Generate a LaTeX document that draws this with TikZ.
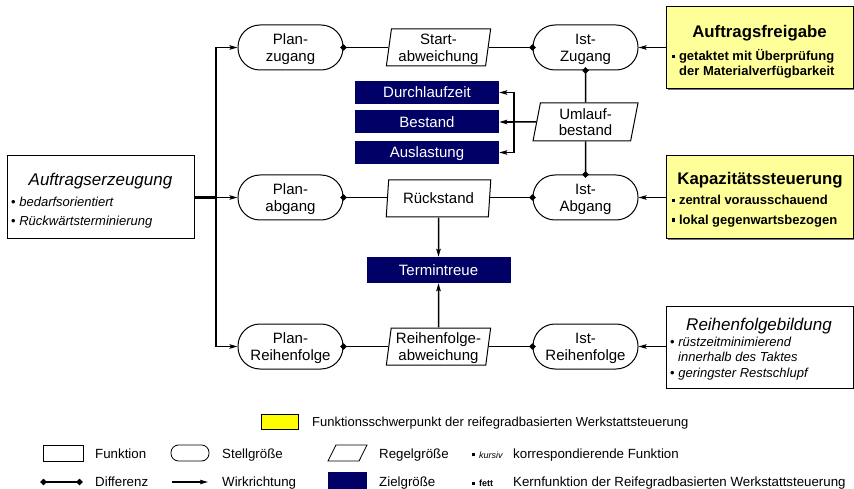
\documentclass[tikz,border=0pt]{standalone}
\usepackage{fontspec}
\setmainfont{Liberation Sans}
\usetikzlibrary{arrows.meta,shapes.geometric,shadows}
\definecolor{zielblau}{HTML}{000066}
\definecolor{schwerpunkt}{HTML}{FFFF99}
\definecolor{legendgelb}{HTML}{FFFF00}
\newcommand\fsz[2]{\fontsize{#1}{#2}\selectfont}
\newcommand\qpkt{\rule[0.22em]{3.2pt}{3.2pt}\hspace{3.6pt}}

\begin{document}
\begin{tikzpicture}[x=1pt,y=-1pt,
  line/.style={line width=1.5pt},
  wirk/.style={line, -{Stealth[length=8pt,width=4.5pt,inset=1.5pt]}},
  diff/.style={line, -{Diamond[length=7pt,width=6.5pt]}, shorten >=-3.5pt},
  diffboth/.style={line, {Diamond[length=7pt,width=6.5pt]}-{Diamond[length=7pt,width=6.5pt]}},
  stell/.style={draw, line width=1pt, rounded corners=22pt, minimum width=105pt,
    minimum height=45pt, inner sep=0pt, align=center, font=\fsz{15}{16.7}, text depth=0pt},
  regel/.style={draw, line width=1pt, trapezium, trapezium left angle=81,
    trapezium right angle=99, trapezium stretches=true, minimum width=105pt,
    minimum height=37pt, inner sep=0pt, align=center, font=\fsz{15}{16.7}, text depth=0pt},
  ziel/.style={fill=zielblau, text=white, minimum width=144pt, minimum height=23pt,
    inner sep=0pt, font=\fsz{15}{17}, text depth=0pt},
  funk/.style={draw, line width=1pt, fill=white, inner sep=0pt,
    minimum width=187pt, minimum height=83pt},
  kern/.style={funk, fill=schwerpunkt,
    drop shadow={shadow xshift=1.5pt, shadow yshift=-1.5pt, fill=black!55, opacity=1}},
  t/.style={inner sep=0pt, anchor=base west},
  tc/.style={inner sep=0pt, anchor=base},
  legtext/.style={t, font=\fsz{13.3}{15}},
]
\useasboundingbox (0,0) rectangle (854,489);

% ---------- control loop: set points, controlled variables, actual values
\node[stell] (PlanZ) at (290.5,47.5) {Plan-\\zugang};
\node[regel] (StartA) at (438.5,47.5) {Start-\\abweichung};
\node[stell] (IstZ) at (585.5,47.5) {Ist-\\Zugang};

\node[regel, minimum height=38pt] (Umlauf) at (585.5,122) {Umlauf-\\bestand};
\node[ziel] (DLZ) at (427,92.5) {Durchlaufzeit};
\node[ziel] (Best) at (427,122) {Bestand};
\node[ziel] (Ausl) at (427,152.5) {Auslastung};

\node[stell] (PlanA) at (290.5,197.5) {Plan-\\abgang};
\node[regel] (Rueck) at (438.5,198.5) {Rückstand};
\node[stell] (IstA) at (585.5,197.5) {Ist-\\Abgang};

\node[ziel, minimum height=26pt] (TT) at (438.5,270) {Termintreue};

\node[stell] (PlanR) at (290.5,346.5) {Plan-\\Reihenfolge};
\node[regel] (RA) at (438.5,346.5) {Reihenfolge-\\abweichung};
\node[stell] (IstR) at (585.5,346.5) {Ist-\\Reihenfolge};

% ---------- function boxes
\node[funk] (AE) at (100.5,197.5) {};
\node[tc, font=\fsz{17}{20}\itshape] (AE-titel) at (100.5,186) {Auftragserzeugung};
\node[t, font=\fsz{13}{15}] (AE-p1) at (11,206.7) {• \textit{bedarfsorientiert}};
\node[t, font=\fsz{13}{15}] (AE-p2) at (11,225.7) {• \textit{Rückwärtsterminierung}};

\node[kern, minimum height=82pt] (AF) at (759.5,48) {};
\node[tc, font=\fsz{16.8}{20}\bfseries] (AF-titel) at (759.5,37.5) {Auftragsfreigabe};
\node[t, font=\fsz{13}{15}\bfseries] (AF-p1) at (672,61) {\qpkt getaktet mit Überprüfung};
\node[t, font=\fsz{13}{15}\bfseries] (AF-p2) at (679,76) {der Materialverfügbarkeit};

\node[kern] (KS) at (759.5,197.5) {};
\node[tc, font=\fsz{16.8}{20}\bfseries] (KS-titel) at (760,184.5) {Kapazitätssteuerung};
\node[t, font=\fsz{13}{15}\bfseries] (KS-p1) at (672,205) {\qpkt zentral vorausschauend};
\node[t, font=\fsz{13}{15}\bfseries] (KS-p2) at (672,224.5) {\qpkt lokal gegenwartsbezogen};

\node[funk, minimum height=82pt] (RB) at (759.5,347) {};
\node[tc, font=\fsz{17}{20}\itshape] (RB-titel) at (759,330.5) {Reihenfolgebildung};
\node[t, font=\fsz{13}{15}] (RB-p1) at (670,346) {• \textit{rüstzeitminimierend}};
\node[t, font=\fsz{13}{15}\itshape] (RB-p2) at (678,361.7) {innerhalb des Taktes};
\node[t, font=\fsz{13}{15}] (RB-p3) at (670,377) {• \textit{geringster Restschlupf}};

% ---------- order generation feeds the three set points
\coordinate (trunk) at (216,197.5);
\draw[line width=2.2pt] (AE.east) -- (trunk);
\draw[wirk] (trunk) |- (PlanZ.west);
\draw[wirk] (trunk) -- (PlanA.west);
\draw[wirk] (trunk) |- (PlanR.west);

% ---------- differences
\draw[diff] (StartA.west |- PlanZ.east) -- (PlanZ.east);
\draw[diff] (StartA.east |- IstZ.west) -- (IstZ.west);
\draw[diff] (Rueck.west |- PlanA.east) -- (PlanA.east);
\draw[diff] (Rueck.east |- IstA.west) -- (IstA.west);
\draw[diff] (RA.west |- PlanR.east) -- (PlanR.east);
\draw[diff] (RA.east |- IstR.west) -- (IstR.west);
\draw[diff] (Umlauf.north) -- (IstZ.south);
\draw[diff] (Umlauf.south) -- (IstA.north);

% ---------- work-in-process drives the logistic targets
\coordinate (verteiler) at (514,122);
\draw[line] (Umlauf.west) -- (verteiler);
\draw[wirk] (verteiler) |- (DLZ.east);
\draw[wirk] (verteiler) -- (Best.east);
\draw[wirk] (verteiler) |- (Ausl.east);

\draw[wirk] (Rueck.south) -- (TT.north);
\draw[wirk] (RA.north) -- (TT.south);

% ---------- functions acting on the actual values
\draw[wirk] (AF.west |- IstZ.east) -- (IstZ.east);
\draw[wirk] (KS.west |- IstA.east) -- (IstA.east);
\draw[wirk] (RB.west |- IstR.east) -- (IstR.east);

% ---------- legend
\node[draw, line width=0.8pt, fill=legendgelb, minimum width=37pt, minimum height=15pt,
  inner sep=0pt] (L-gelb) at (279.5,421.5) {};
\node[t, font=\fsz{13}{15}] (L-gelb-t) at (312,426.7)
  {Funktionsschwerpunkt der reifegradbasierten Werkstattsteuerung};

\node[draw, line width=0.8pt, minimum width=40pt, minimum height=16pt, inner sep=0pt]
  (L-funk) at (63,453) {};
\node[legtext] (L-funk-t) at (95,458.3) {Funktion};
\node[draw, line width=0.8pt, rounded corners=7.5pt, minimum width=38pt,
  minimum height=16pt, inner sep=0pt] (L-stell) at (190,453) {};
\node[legtext] (L-stell-t) at (222,458.3) {Stellgröße};
\node[draw, line width=0.8pt, trapezium, trapezium left angle=76, trapezium right angle=104,
  trapezium stretches=true, minimum width=39pt, minimum height=16pt, inner sep=0pt,
  font=\fsz{8}{9}] (L-regel) at (347.5,453) {\vphantom{X}\hphantom{x}};
\node[legtext] (L-regel-t) at (379,458.3) {Regelgröße};
\node[t, font=\fsz{9}{11}] (L-kursiv) at (472,458.3) {\qpkt\textit{kursiv}};
\node[legtext] (L-kursiv-t) at (513,458.3) {korrespondierende Funktion};

\coordinate (L-diff-a) at (40,482);
\coordinate (L-diff-b) at (83,482);
\draw[diffboth] (L-diff-a) -- (L-diff-b);
\node[legtext] (L-diff-t) at (95,486.7) {Differenz};
\coordinate (L-wirk-a) at (172,482);
\coordinate (L-wirk-b) at (208,482);
\draw[wirk] (L-wirk-a) -- (L-wirk-b);
\node[legtext] (L-wirk-t) at (222,486.7) {Wirkrichtung};
\node[fill=zielblau, minimum width=39pt, minimum height=17pt, inner sep=0pt]
  (L-ziel) at (347.5,480.5) {};
\node[legtext] (L-ziel-t) at (379,486.7) {Zielgröße};
\node[t, font=\fsz{9}{11}\bfseries] (L-fett) at (472,486.7) {\qpkt fett};
\node[legtext] (L-fett-t) at (513,486.7) {Kernfunktion der Reifegradbasierten Werkstattsteuerung};
\end{tikzpicture}
\end{document}
